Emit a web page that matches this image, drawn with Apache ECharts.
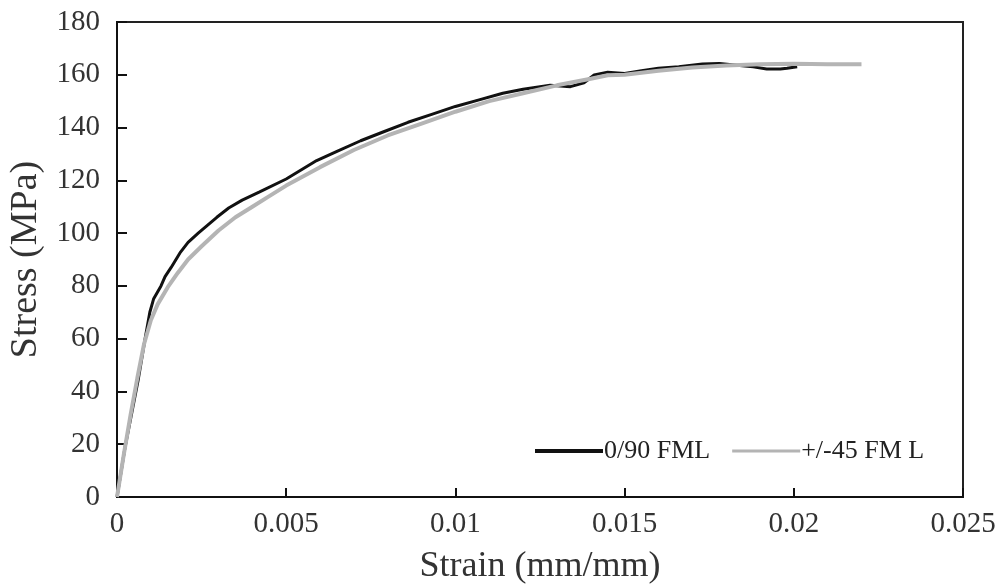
<!DOCTYPE html>
<html>
<head>
<meta charset="utf-8">
<script src="https://cdn.jsdelivr.net/npm/echarts@6/dist/echarts.min.js"></script>
<style>
html,body{margin:0;padding:0;background:#fff;}
#chart{width:1003px;height:588px;}
</style>
</head>
<body>
<div id="chart"></div>
<script>
const seriesNames = ['0/90 FML', '+/-45 FM L'];
const xTicks = [0, 0.005, 0.01, 0.015, 0.02, 0.025];
const yTicks = [0, 20, 40, 60, 80, 100, 120, 140, 160, 180];

const strain090 = [0, 0.00024, 0.00062, 0.00083, 0.00097, 0.00108, 0.0013, 0.00142, 0.0016, 0.00186, 0.0021, 0.0024, 0.00295, 0.0033, 0.0037, 0.0042, 0.005, 0.0059, 0.0065, 0.0072, 0.0079, 0.0086, 0.0093, 0.0100, 0.0107, 0.0114, 0.0120, 0.0128, 0.0134, 0.0138, 0.0141, 0.0145, 0.0150, 0.0155, 0.0160, 0.0166, 0.0173, 0.0178, 0.0184, 0.0188, 0.0192, 0.0196, 0.0198, 0.0201];
const stress090 = [0, 19, 44, 60, 70, 75, 80, 83.5, 87, 92.5, 96.5, 100, 106, 109.5, 112.5, 115.5, 120.5, 127.5, 131, 135, 138.5, 142, 145, 148, 150.5, 153, 154.5, 156, 155.5, 157, 159.9, 161, 160.5, 161.5, 162.5, 163, 164.1, 164.3, 163.5, 163, 162.2, 162.2, 162.5, 163];

const strain45 = [0, 0.0002, 0.0004, 0.0006, 0.0008, 0.001, 0.0012, 0.0015, 0.0018, 0.0021, 0.0025, 0.003, 0.0035, 0.004, 0.0045, 0.005, 0.006, 0.007, 0.008, 0.009, 0.010, 0.011, 0.012, 0.013, 0.014, 0.0145, 0.015, 0.016, 0.017, 0.018, 0.019, 0.020, 0.021, 0.022];
const stress45 = [0, 16, 31, 45, 58, 67, 73, 79.5, 85, 90, 95, 101, 106, 110, 114, 118, 125, 131.5, 137, 141.5, 146, 150, 153, 156, 158.5, 159.8, 160, 161.5, 162.8, 163.5, 164, 164.2, 164, 164];

const pair = (xs, ys) => xs.map((x, i) => [x, ys[i]]);
const font = '"Liberation Serif", "DejaVu Serif", serif';

const chart = echarts.init(document.getElementById('chart'));
chart.setOption({
  animation: false,
  backgroundColor: '#fff',
  grid: { left: 117, top: 22, right: 40, bottom: 91, outerBoundsMode: 'none', containLabel: false,
    show: true, borderColor: '#222', borderWidth: 2, backgroundColor: 'transparent' },
  legend: {
    left: 530, top: 433,
    itemWidth: 68, itemHeight: 12, itemGap: 22,
    textStyle: { fontFamily: font, fontSize: 26, color: '#222', padding: [0, 0, 0, -4] },
    data: [
      { name: seriesNames[0], icon: 'path://M0,4 L68,4 L68,8 L0,8 Z', itemStyle: { color: '#111' } },
      { name: seriesNames[1], icon: 'path://M0,4 L68,4 L68,7 L0,7 Z', itemStyle: { color: '#b4b4b4' } }
    ]
  },
  xAxis: {
    type: 'value', min: xTicks[0], max: xTicks[xTicks.length - 1], interval: 0.005,
    name: 'Strain (mm/mm)', nameLocation: 'middle', nameGap: 52,
    nameTextStyle: { fontFamily: font, fontSize: 36, color: '#333' },
    axisLine: { show: true, lineStyle: { color: '#111', width: 2 } },
    axisTick: { show: true, inside: true, length: 9, lineStyle: { color: '#111', width: 2 } },
    axisLabel: { fontFamily: font, fontSize: 29, color: '#333', margin: 13,
      formatter: v => { const t = xTicks.find(k => Math.abs(k - v) < 1e-9); return t === undefined ? '' : String(t); } },
    splitLine: { show: false }
  },
  yAxis: {
    type: 'value', min: yTicks[0], max: yTicks[yTicks.length - 1], interval: 20,
    name: 'Stress (MPa)', nameLocation: 'middle', nameGap: 72,
    nameTextStyle: { fontFamily: font, fontSize: 38, color: '#333' },
    axisLine: { show: true, lineStyle: { color: '#111', width: 2 } },
    axisTick: { show: true, inside: true, length: 10, lineStyle: { color: '#111', width: 2 } },
    axisLabel: { fontFamily: font, fontSize: 29, color: '#333', margin: 17 },
    splitLine: { show: false }
  },
  series: [
    { name: seriesNames[0], type: 'line', symbol: 'none', data: pair(strain090, stress090),
      lineStyle: { color: '#111', width: 3 }, itemStyle: { color: '#111' }, z: 2 },
    { name: seriesNames[1], type: 'line', symbol: 'none', data: pair(strain45, stress45),
      lineStyle: { color: '#b4b4b4', width: 4 }, itemStyle: { color: '#b4b4b4' }, z: 3 }
  ]
});
</script>
</body>
</html>
